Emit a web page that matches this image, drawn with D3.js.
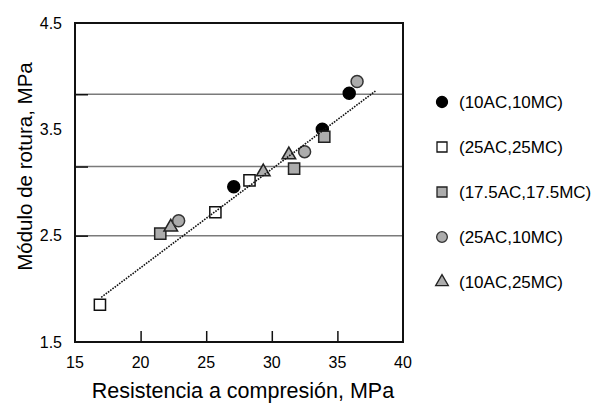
<!DOCTYPE html>
<html>
<head>
<meta charset="utf-8">
<script src="https://cdn.jsdelivr.net/npm/d3@7"></script>
<style>
  body { margin: 0; background: #fff; }
  text { font-family: "Liberation Sans", Arial, sans-serif; fill: #000; }
</style>
</head>
<body>
<div id="chart"></div>
<script>
// data
var seriesNames = ["(10AC,10MC)", "(25AC,25MC)", "(17.5AC,17.5MC)", "(25AC,10MC)", "(10AC,25MC)"];
var blackX = [27.1, 33.85, 35.9];
var blackY = [2.96, 3.50, 3.84];
var whiteSqX = [16.9, 25.7, 28.3];
var whiteSqY = [1.85, 2.72, 3.02];
var graySqX = [21.5, 31.7, 34.0];
var graySqY = [2.52, 3.13, 3.43];
var grayCircX = [22.9, 32.5, 36.5];
var grayCircY = [2.64, 3.29, 3.95];
var triX = [22.3, 29.35, 31.3];
var triY = [2.58, 3.10, 3.26];
var trendX = [17.0, 37.9];
var trendY = [1.92, 3.86];
var xTicks = [15, 20, 25, 30, 35, 40];
var yLabels = [1.5, 2.5, 3.5, 4.5];
var gridVals = [2.5, 3.15, 3.83];

var svgWidth = 592, svgHeight = 403;
var margin = {top: 23, right: 189, bottom: 61, left: 75};
var width = svgWidth - margin.left - margin.right;
var height = svgHeight - margin.top - margin.bottom;

var svg = d3.select("#chart").append("svg")
  .attr("width", svgWidth)
  .attr("height", svgHeight);

var g = svg.append("g")
  .attr("transform", `translate(${margin.left}, ${margin.top})`);

var x = d3.scaleLinear().domain([15, 40]).range([0, width]);
var y = d3.scaleLinear().domain([1.5, 4.5]).range([height, 0]);

// grid lines
g.selectAll(".grid").data(gridVals).enter().append("line")
  .attr("x1", 0).attr("x2", width)
  .attr("y1", d => y(d)).attr("y2", d => y(d))
  .attr("stroke", "#7a7a7a").attr("stroke-width", 1.5);

// inward ticks on y at grid lines
g.append("g")
  .call(d3.axisRight(y).tickValues(gridVals).tickSize(13).tickFormat(""))
  .call(a => a.select(".domain").remove())
  .selectAll("line").attr("stroke", "#111").attr("stroke-width", 1.5);

// inward ticks on x
g.append("g")
  .attr("transform", `translate(0, ${height})`)
  .call(d3.axisTop(x).tickValues([20, 25, 30, 35]).tickSize(11).tickFormat(""))
  .call(a => a.select(".domain").remove())
  .selectAll("line").attr("stroke", "#111").attr("stroke-width", 1.5);

// frame
g.append("rect")
  .attr("width", width).attr("height", height)
  .attr("fill", "none").attr("stroke", "#111").attr("stroke-width", 2);

// tick labels
g.selectAll(".xl").data(xTicks).enter().append("text")
  .attr("x", d => x(d)).attr("y", height + 26)
  .attr("text-anchor", "middle").attr("font-size", 16)
  .text(d => d);

g.selectAll(".yl").data(yLabels).enter().append("text")
  .attr("x", -13).attr("y", d => y(d)).attr("dy", "0.35em")
  .attr("text-anchor", "end").attr("font-size", 16)
  .text(d => d3.format(".1f")(d));

// axis titles
g.append("text")
  .attr("x", width / 2 + 4).attr("y", height + 56)
  .attr("text-anchor", "middle").attr("font-size", 21.5)
  .text("Resistencia a compresión, MPa");

g.append("text")
  .attr("transform", `translate(${-43}, ${y(3.0) - 16}) rotate(-90)`)
  .attr("text-anchor", "middle").attr("font-size", 20.5)
  .text("Módulo de rotura, MPa");

var styles = [
  {type: d3.symbolCircle, size: 113, legSize: 95, fill: "#000", stroke: "#000", xs: blackX, ys: blackY},
  {type: d3.symbolSquare, size: 125, legSize: 100, fill: "#fff", stroke: "#111", xs: whiteSqX, ys: whiteSqY},
  {type: d3.symbolSquare, size: 125, legSize: 100, fill: "#acacac", stroke: "#222", xs: graySqX, ys: graySqY},
  {type: d3.symbolTriangle, size: 80, legSize: 70, fill: "#acacac", stroke: "#222", xs: triX, ys: triY, idx: 4},
  {type: d3.symbolCircle, size: 113, legSize: 90, fill: "#acacac", stroke: "#333", xs: grayCircX, ys: grayCircY, idx: 3}
];

styles.forEach(function(s) {
  g.selectAll(null).data(s.xs).enter().append("path")
    .attr("d", d3.symbol().type(s.type).size(s.size))
    .attr("transform", (d, i) => `translate(${x(d)}, ${y(s.ys[i])})`)
    .attr("fill", s.fill).attr("stroke", s.stroke).attr("stroke-width", 1.5);
});

// trend line
g.append("path")
  .datum(trendX.map((d, i) => [d, trendY[i]]))
  .attr("d", d3.line().x(d => x(d[0])).y(d => y(d[1])))
  .attr("fill", "none").attr("stroke", "#111")
  .attr("stroke-width", 1.6).attr("stroke-dasharray", "1.6,1.2");

// legend
var legend = svg.append("g").attr("transform", "translate(442, 102)");
styles.forEach(function(s, k) {
  var i = s.idx !== undefined ? s.idx : k;
  var row = legend.append("g").attr("transform", `translate(0, ${i * 45})`);
  row.append("path")
    .attr("d", d3.symbol().type(s.type).size(s.legSize))
    .attr("fill", s.fill).attr("stroke", s.stroke).attr("stroke-width", 1.3);
  row.append("text")
    .attr("x", 17).attr("dy", "0.35em").attr("font-size", 17)
    .text(seriesNames[i]);
});
</script>
</body>
</html>
